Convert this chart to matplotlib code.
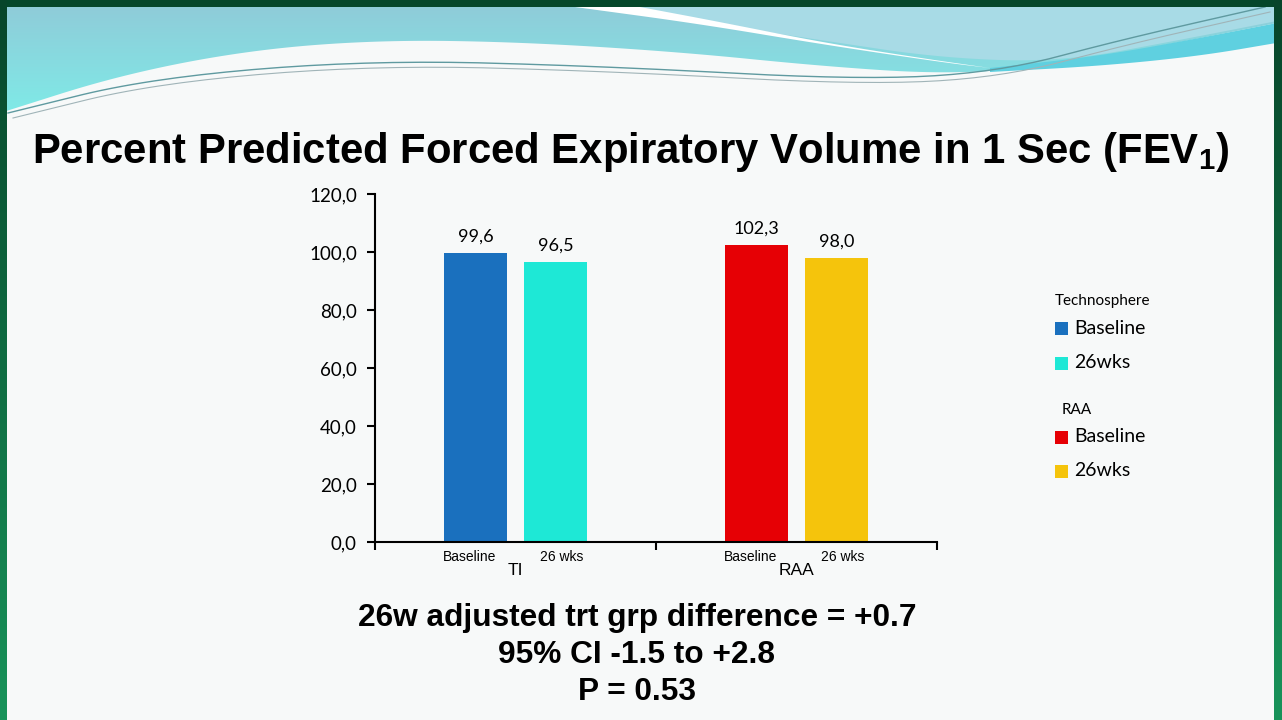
import numpy as np
import matplotlib
matplotlib.use("Agg")
import matplotlib.pyplot as plt
from matplotlib.patches import Polygon, Rectangle
from matplotlib.colors import LinearSegmentedColormap

# data
groups = ["TI", "RAA"]
sub_labels = ["Baseline", "26 wks"]
ti_vals = [99.6, 96.5]
raa_vals = [102.3, 98.0]
y_ticks = [0, 20, 40, 60, 80, 100, 120]
legend_titles = ["Technosphere", "RAA"]
legend_items = ["Baseline", "26wks"]
ti_colors = ["#1a70be", "#1ee8d6"]
raa_colors = ["#e60005", "#f5c40c"]
footer = ["26w adjusted trt grp difference = +0.7", "95% CI -1.5 to +2.8", "P = 0.53"]

arial = ["Liberation Sans", "DejaVu Sans"]
calib = ["Lato", "DejaVu Sans"]

plt.rcParams["mathtext.fontset"] = "custom"
plt.rcParams["mathtext.bf"] = "Liberation Sans:bold"
plt.rcParams["mathtext.rm"] = "Liberation Sans:bold"


def smooth(xs, ys, n=4):
    # chaikin corner cutting, only for the decorative banner curves
    pts = np.column_stack([xs, ys]).astype(float)
    for _ in range(n):
        q = 0.75 * pts[:-1] + 0.25 * pts[1:]
        r = 0.25 * pts[:-1] + 0.75 * pts[1:]
        new = np.empty((2 * len(q), 2))
        new[0::2] = q
        new[1::2] = r
        pts = np.vstack([pts[:1], new, pts[-1:]])
    return pts


W, H = 1282, 720
fig = plt.figure(figsize=(W / 100, H / 100), dpi=100)
fig.patch.set_facecolor("#f7f9f9")

bg = fig.add_axes([0, 0, 1, 1], zorder=0)
bg.axis("off")

# banner: cyan gradient above a wavy white edge
grad = np.linspace(0, 1, 256).reshape(-1, 1)
band = bg.imshow(grad, extent=[0, W, 120, 0], aspect="auto",
                 cmap=LinearSegmentedColormap.from_list("b", ["#90cad8", "#7eece8"]), zorder=1)
edge = smooth([0, 120, 250, 380, 520, 680, 820, 940, 1040, 1150, 1282],
              [113, 75, 50, 40, 42, 52, 66, 74, 68, 48, 22])
clip_pts = np.vstack([[[0, 0]], edge, [[W, 0]]])
clip = Polygon(clip_pts, closed=True, transform=bg.transData)
band.set_clip_path(clip)

# pale sky top right, above the white swoosh
sky_top = [(1282, 7), (575, 7)]
sky_low = smooth([575, 700, 820, 940, 1060, 1180, 1282], [7, 22, 40, 58, 62, 40, 20])
bg.add_patch(Polygon(np.vstack([sky_low, sky_top]), closed=True,
                     facecolor="#a8dbe6", edgecolor="none", zorder=2))
# white swoosh
sw_lo = smooth([575, 700, 820, 940, 990], [7, 24, 44, 62, 68])
sw_hi = smooth([990, 920, 820, 720, 640], [68, 58, 42, 22, 7])
bg.add_patch(Polygon(np.vstack([sw_lo, sw_hi]), closed=True, facecolor="white", edgecolor="none", zorder=3))
# teal ribbon on the right
rb_hi = smooth([990, 1100, 1200, 1282], [68, 56, 38, 22])
rb_lo = smooth([1282, 1200, 1100, 990], [42, 56, 66, 72])
bg.add_patch(Polygon(np.vstack([rb_hi, rb_lo]), closed=True, facecolor="#5fd0e0", edgecolor="none", zorder=3))
# thin lines
ln = smooth([8, 150, 370, 600, 860, 1000, 1120, 1265], [113, 78, 60, 66, 80, 72, 40, 7])
bg.plot(ln[:, 0], ln[:, 1], color="#5f9aa0", lw=1.0, zorder=4)
bg.plot(ln[:, 0] + 5, ln[:, 1] + 5, color="#a0b4b8", lw=0.8, zorder=4)

# green frame
fr = LinearSegmentedColormap.from_list("g", ["#07452a", "#18935a"])
bg.add_patch(Rectangle((0, 0), W, 7, facecolor="#05472a", edgecolor="none", zorder=5))
bg.imshow(grad, extent=[0, 7, H, 0], aspect="auto", cmap=fr, zorder=5)
bg.imshow(grad, extent=[W - 8, W, H, 0], aspect="auto", cmap=fr, zorder=5)
bg.set_xlim(0, W)
bg.set_ylim(H, 0)

# title
bg.text(32, 163, r"Percent Predicted Forced Expiratory Volume in 1 Sec (FEV$_\mathbf{1}$)",
        family=arial, fontweight="bold", fontsize=30.2, color="black", va="baseline", ha="left", zorder=6)

# main chart
ax = fig.add_axes([375 / W, 1 - 542 / H, 562 / W, 348 / H], zorder=2)
ax.patch.set_alpha(0)
ax.set_xlim(0, 2)
ax.set_ylim(0, 120)
centers = np.arange(len(groups)) + 0.5
offs = [-0.143, 0.143]
bw = 0.224
for gi, (vals, cols) in enumerate([(ti_vals, ti_colors), (raa_vals, raa_colors)]):
    for si, (v, c) in enumerate(zip(vals, cols)):
        x = centers[gi] + offs[si]
        ax.bar(x, v, width=bw, color=c)
        ax.annotate(f"{v:.1f}".replace(".", ","), (x, v), xytext=(0, 6), textcoords="offset points",
                    ha="center", va="bottom", family=calib, fontsize=13)
        ax.text(x - (0.02 if si == 0 else -0.02), -2.6, sub_labels[si], ha="center", va="top",
                family=arial, fontsize=10)
    ax.text(centers[gi], -7.4, groups[gi], ha="center", va="top", family=arial, fontsize=12.5)

ax.set_yticks(y_ticks)
ax.set_yticklabels([f"{t:.1f}".replace(".", ",") for t in y_ticks], family=calib, fontsize=13.5)
ax.set_xticks([0, 1, 2])
ax.set_xticklabels([])
ax.tick_params(axis="y", direction="out", length=6, width=1.5, pad=7)
ax.tick_params(axis="x", direction="out", length=6, width=1.5)
for s in ["top", "right"]:
    ax.spines[s].set_visible(False)
for s in ["left", "bottom"]:
    ax.spines[s].set_linewidth(1.5)

# legend, drawn by hand as two titled groups
lg_y = [[301, 328, 363], [410, 437, 471]]
all_cols = [ti_colors, raa_colors]
for gi in range(2):
    bg.text(1055 if gi == 0 else 1062, lg_y[gi][0], legend_titles[gi], family=calib, fontsize=11,
            va="center", ha="left", zorder=6)
    for si in range(2):
        yy = lg_y[gi][si + 1]
        bg.add_patch(Rectangle((1055, yy - 6.5), 13, 13, facecolor=all_cols[gi][si], edgecolor="none", zorder=6))
        bg.text(1074, yy, legend_items[si], family=calib, fontsize=14, va="center", ha="left", zorder=6)

# footer
for t, yy in zip(footer, [618, 655, 692]):
    bg.text(637, yy, t, family=arial, fontweight="bold", fontsize=22.8, ha="center", va="center", zorder=6)

fig.savefig("out.png", dpi=100, facecolor=fig.get_facecolor())
